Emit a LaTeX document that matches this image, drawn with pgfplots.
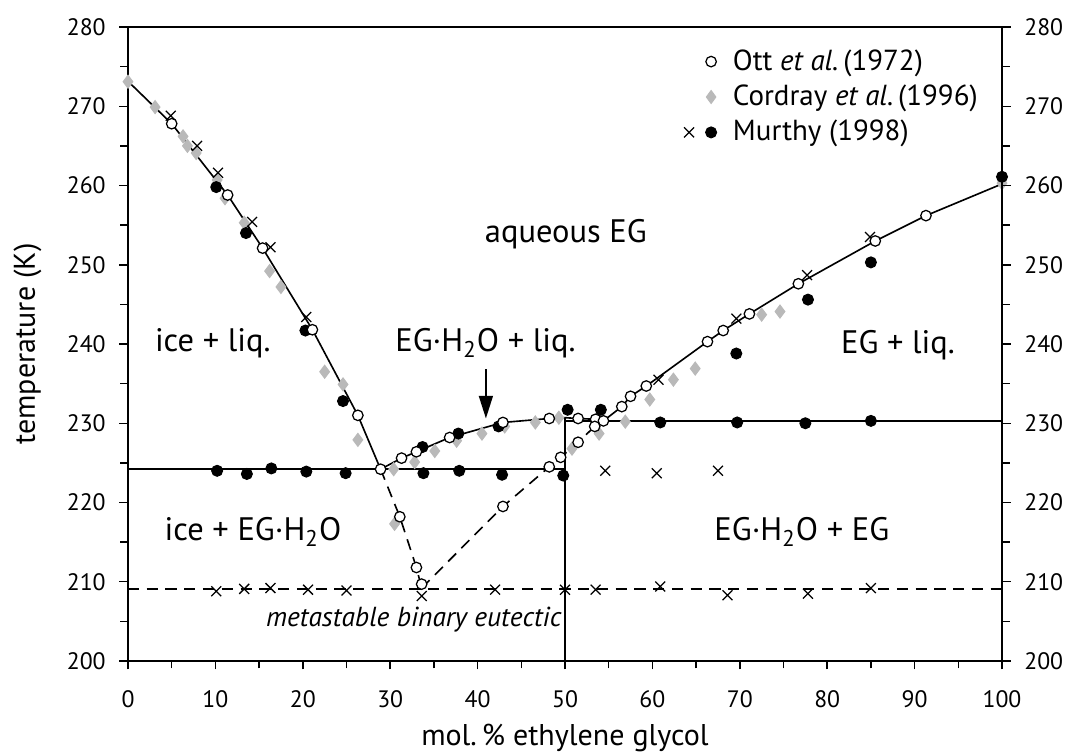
\documentclass[border=0pt]{standalone}
\usepackage{fontspec}
\setmainfont{PT Sans}
\usepackage{pgfplots}
\usepackage{pgfplotstable}
\pgfplotsset{compat=1.18}
\usetikzlibrary{arrows.meta}
\definecolor{cordgray}{RGB}{185,185,185}

% phase boundaries
\pgfplotstableread{
x T
0 273.15
5.0 267.8
11.4 258.8
15.4 252.1
21.1 241.8
26.3 231.0
28.9 224.2
}\iceliq
\pgfplotstableread{
x T
28.9 224.2
31.3 225.6
33.0 226.4
36.8 228.2
42.9 230.1
48.2 230.6
50.0 230.7
51.5 230.6
53.5 230.5
54.4 230.3
}\hydliq
\pgfplotstableread{
x T
54.4 230.3
56.5 232.1
57.5 233.4
59.3 234.7
66.3 240.3
68.1 241.7
71.1 243.8
76.7 247.6
85.5 253.0
91.3 256.2
100 260.2
}\egliq
\pgfplotstableread{
x T
28.9 224.2
31.1 218.2
33.0 211.8
33.6 209.2
}\icemeta
\pgfplotstableread{
x T
33.6 209.2
42.9 219.5
48.2 224.5
49.5 225.7
51.5 227.6
53.4 229.6
54.4 230.3
}\egmeta

% Ott et al. (1972)
\pgfplotstableread{
x T
5.0 267.8
11.4 258.8
15.4 252.1
21.1 241.8
26.3 231.0
28.9 224.2
31.3 225.6
33.0 226.4
36.8 228.2
42.9 230.1
48.2 230.6
51.5 230.6
53.5 230.5
54.4 230.3
53.4 229.6
51.5 227.6
49.5 225.7
48.2 224.5
42.9 219.5
31.1 218.2
33.0 211.8
33.6 209.7
56.5 232.1
57.5 233.4
59.3 234.7
66.3 240.3
68.1 241.7
71.1 243.8
76.7 247.6
85.5 253.0
91.3 256.2
}\ott

% Cordray et al. (1996)
\pgfplotstableread{
x T
0 273.1
3.1 269.9
6.3 266.2
6.8 265.0
7.8 264.1
10.2 260.7
11.1 258.4
13.3 255.3
16.2 249.2
17.5 247.2
22.5 236.5
24.6 234.9
26.3 227.9
30.4 224.2
30.5 217.3
32.8 225.1
35.1 226.5
37.6 227.8
40.5 228.7
43.1 229.6
46.6 230.1
49.3 230.7
50.8 226.8
53.9 228.7
56.9 230.2
59.7 233.0
62.4 235.5
64.9 236.9
72.5 243.7
74.6 244.1
100 260.3
}\cordray

% Murthy (1998), crosses
\pgfplotstableread{
x T
4.9 268.8
7.9 265.0
10.3 261.6
14.2 255.4
16.3 252.2
20.4 243.4
60.7 235.5
69.6 243.2
77.7 248.7
84.9 253.5
54.6 224.0
60.5 223.7
67.5 224.0
10.1 208.8
13.3 209.1
16.3 209.2
20.6 209.0
25.0 208.9
33.6 208.2
42.0 209.0
50.0 209.0
53.5 209.0
60.9 209.4
68.6 208.3
77.8 208.5
85.0 209.2
}\murx

% Murthy (1998), filled circles
\pgfplotstableread{
x T
10.1 259.8
13.5 254.0
20.3 241.7
24.6 232.8
33.7 227.0
37.8 228.7
42.4 229.6
50.3 231.7
54.1 231.7
69.6 238.8
77.8 245.6
85.0 250.3
100 261.1
10.2 224.0
13.6 223.6
16.4 224.3
20.4 223.9
24.9 223.7
33.8 223.7
37.9 224.0
42.8 223.5
49.8 223.4
60.9 230.1
69.7 230.1
77.5 230.0
85.0 230.3
}\murdot

\pgfplotsset{
  ottstyle/.style={only marks, mark=*, mark size=2.1pt, mark options={fill=white, draw=black, line width=0.5pt}},
  cordstyle/.style={only marks, mark=diamond*, mark size=2.6pt, mark options={fill=cordgray, draw=cordgray}},
  murxstyle/.style={only marks, mark=x, mark size=2.8pt, mark options={draw=black, line width=0.5pt}},
  murdotstyle/.style={only marks, mark=*, mark size=2.2pt, mark options={fill=black, draw=black}},
  phase/.style={black, line width=0.65pt, forget plot},
  meta/.style={black, line width=0.65pt, dash pattern=on 4.5pt off 3pt, forget plot},
}

\begin{document}
\begin{tikzpicture}
\begin{axis}[
  scale only axis,
  width=349.6pt, height=253.6pt,
  xmin=0, xmax=100, ymin=200, ymax=280,
  xtick={0,10,...,100}, ytick={200,210,...,280},
  minor x tick num=1, minor y tick num=1,
  xtick pos=bottom, ytick pos=left,
  tick align=outside,
  major tick length=3.4pt, minor tick length=3pt,
  every tick/.style={black, line width=0.6pt},
  axis line style={line width=0.8pt},
  /pgf/number format/assume math mode=true,
  tick label style={font=\fontsize{9.5}{11}\selectfont},
  xticklabel style={yshift=-5pt},
  yticklabel style={xshift=-2pt},
  xlabel={mol.\,\% ethylene glycol},
  ylabel={temperature (K)},
  label style={font=\fontsize{12}{14}\selectfont},
  xlabel style={at={(axis description cs:0.5,-0.122)}, anchor=center},
  ylabel style={at={(axis description cs:-0.115,0.5)}, anchor=center},
  clip=false,
  legend style={draw=none, fill=none, at={(axis cs:60.7,278.5)}, anchor=north west,
    font=\fontsize{11.6}{13.6}\selectfont, row sep=0.4pt,
    /tikz/every even column/.append style={column sep=1pt}},
  legend cell align=left,
]
\coordinate (O) at (rel axis cs:0,0);

% stable boundaries
\addplot[phase] table[x=x,y=T] {\iceliq};
\addplot[phase] table[x=x,y=T] {\hydliq};
\addplot[phase] table[x=x,y=T] {\egliq};
\addplot[phase] coordinates {(0,224.2) (50,224.2)};
\addplot[phase] coordinates {(50,230.3) (100,230.3)};
\addplot[phase] coordinates {(50,200) (50,230.7)};
% metastable
\addplot[meta] table[x=x,y=T] {\icemeta};
\addplot[meta] table[x=x,y=T] {\egmeta};
\addplot[meta] coordinates {(0,209.1) (100,209.1)};

% data
\addplot[cordstyle, forget plot] table[x=x,y=T] {\cordray};
\addplot[murdotstyle, forget plot] table[x=x,y=T] {\murdot};
\addplot[murxstyle, forget plot] table[x=x,y=T] {\murx};
\addplot[ottstyle, forget plot] table[x=x,y=T] {\ott};

% legend
\addlegendimage{legend image code/.code={
  \path (0,0) (0.85cm,0);
  \draw[black, fill=white, line width=0.5pt] (0.62cm,0) circle (2.1pt);}}
\addlegendentry{Ott \textit{et al.}\,(1972)}
\addlegendimage{legend image code/.code={
  \path (0,0) (0.85cm,0);
  \fill[cordgray] (0.62cm,2.6pt) -- (0.62cm+1.9pt,0) -- (0.62cm,-2.6pt) -- (0.62cm-1.9pt,0) -- cycle;}}
\addlegendentry{Cordray \textit{et al.}\,(1996)}
\addlegendimage{legend image code/.code={
  \path (0,0) (0.85cm,0);
  \draw[black, line width=0.5pt] (0.31cm-2pt,-2pt) -- (0.31cm+2pt,2pt) (0.31cm-2pt,2pt) -- (0.31cm+2pt,-2pt);
  \fill[black] (0.62cm,0) circle (2.2pt);}}
\addlegendentry{Murthy (1998)}

% labels
\begin{scope}[every node/.style={font=\fontsize{13}{15}\selectfont}]
\node at (axis cs:50.1,253.8) {aqueous EG};
\node at (axis cs:9.7,240.1) {ice + liq.};
\node at (axis cs:40.9,240.1) {EG·H\textsubscript{2}O + liq.};
\node at (axis cs:88.1,239.9) {EG + liq.};
\node at (axis cs:14.3,216.3) {ice + EG·H\textsubscript{2}O};
\node at (axis cs:77.1,216.3) {EG·H\textsubscript{2}O + EG};
\end{scope}
\node[font=\fontsize{11}{13}\selectfont\itshape] at (axis cs:32.7,205.2) {metastable binary eutectic};
\draw[black, line width=0.8pt, -{Triangle[length=9pt,width=5.5pt]}] (axis cs:40.95,236.8) -- (axis cs:40.95,230.6);
\end{axis}

\begin{axis}[
  scale only axis,
  width=349.6pt, height=253.6pt,
  xmin=0, xmax=100, ymin=200, ymax=280,
  axis x line=none, axis y line*=right,
  ytick={200,210,...,280}, minor y tick num=1,
  tick align=outside,
  major tick length=3.4pt, minor tick length=3pt,
  every tick/.style={black, line width=0.6pt},
  axis line style={line width=0.8pt},
  /pgf/number format/assume math mode=true,
  tick label style={font=\fontsize{9.5}{11}\selectfont},
  yticklabel style={xshift=2pt},
]
\end{axis}

\pgfresetboundingbox
\path[use as bounding box] (O) ++(-51.2pt,-37.2pt) rectangle ++(428pt,301.6pt);
\end{tikzpicture}
\end{document}
